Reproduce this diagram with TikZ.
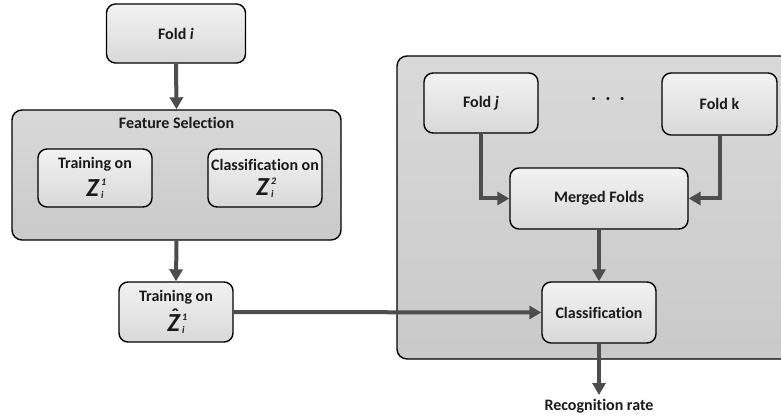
\documentclass[tikz,border=0pt]{standalone}
\usepackage{fontspec}
\setmainfont{Carlito}[Ligatures=CommonOff]
\usetikzlibrary{arrows.meta}
\definecolor{arrowgray}{HTML}{4D4D4D}
\definecolor{txt}{HTML}{1A1A1A}
\newcommand{\smallsc}[1]{{\fontsize{10}{10}\selectfont\bfseries\itshape #1}}
\newcommand{\bigZ}{{\fontsize{26}{26}\selectfont\bfseries\itshape Z}}
\newcommand{\zsym}[1]{\bigZ\kern2.5pt\makebox[0pt][l]{\raisebox{11pt}{\smallsc{#1}}}\raisebox{-2pt}{\smallsc{i}}}
\newcommand{\zhatsym}[1]{\makebox[0pt][l]{\hspace{4pt}\raisebox{9pt}{{\fontsize{20}{20}\selectfont\bfseries ˆ}}}\zsym{#1}}
\begin{document}
\begin{tikzpicture}[x=1pt,y=-1pt,
  every node/.style={font=\fontsize{16}{18}\selectfont\bfseries, text=txt},
  innerbox/.style={draw=black, line width=1.4pt, rounded corners=9pt,
    top color=white!95!black, bottom color=white!85!black, inner sep=0pt, align=center},
  outerbox/.style={draw=black, line width=1.4pt, rounded corners=10pt,
    top color=white!85!black, bottom color=white!79!black, inner sep=0pt},
  flow/.style={draw=arrowgray, line width=4pt, -{Triangle[length=12pt,width=13pt]}}]
\useasboundingbox (0,0) rectangle (781,419);
\clip (0,0) rectangle (781,419);
% outer boxes
\node[outerbox, minimum width=329pt, minimum height=130pt] (fs) at (176.5,175) {};
\node[outerbox, minimum width=400pt, minimum height=303pt] (right) at (597,207.5) {};
\node (fstitle) at (176.5,123) {Feature Selection};
% inner boxes
\node[innerbox, minimum width=139pt, minimum height=59pt] (foldi) at (176,33.5) {Fold \textit{i}};
\node[innerbox, minimum width=114pt, minimum height=58pt] (tz) at (95,178) {Training on\\[7pt] \zsym{1}};
\node[innerbox, minimum width=114pt, minimum height=58pt] (cz) at (265,178) {Classification on\\[7pt] \zsym{2}};
\node[innerbox, minimum width=114pt, minimum height=60pt] (tzh) at (176,312) {Training on\\[3pt] \zhatsym{1}};
\node[innerbox, minimum width=114pt, minimum height=60pt] (foldj) at (481,103) {Fold \textit{j}};
\node[innerbox, minimum width=115pt, minimum height=62pt] (foldk) at (719.5,104) {Fold k};
\node (dots) at (608,101) {·\hspace{10pt}·\hspace{10pt}·};
\node[innerbox, minimum width=178pt, minimum height=61pt] (merged) at (599,198.5) {Merged Folds};
\node[innerbox, minimum width=114pt, minimum height=61pt] (cls) at (599,312.5) {Classification};
\node[inner sep=0pt] (rec) at (599,406) {Recognition rate};
\coordinate (recin) at (599,395);
% connectors
\draw[flow] (foldi.south) -- (fs.north);
\draw[flow] (fs.south) -- (tzh.north);
\draw[flow] (tzh.east) -- (cls.west);
\draw[flow] (foldj.south) |- (merged.west);
\draw[flow] (foldk.south) |- (merged.east);
\draw[flow] (merged.south) -- (cls.north);
\draw[flow] (cls.south) -- (recin);
\end{tikzpicture}
\end{document}
